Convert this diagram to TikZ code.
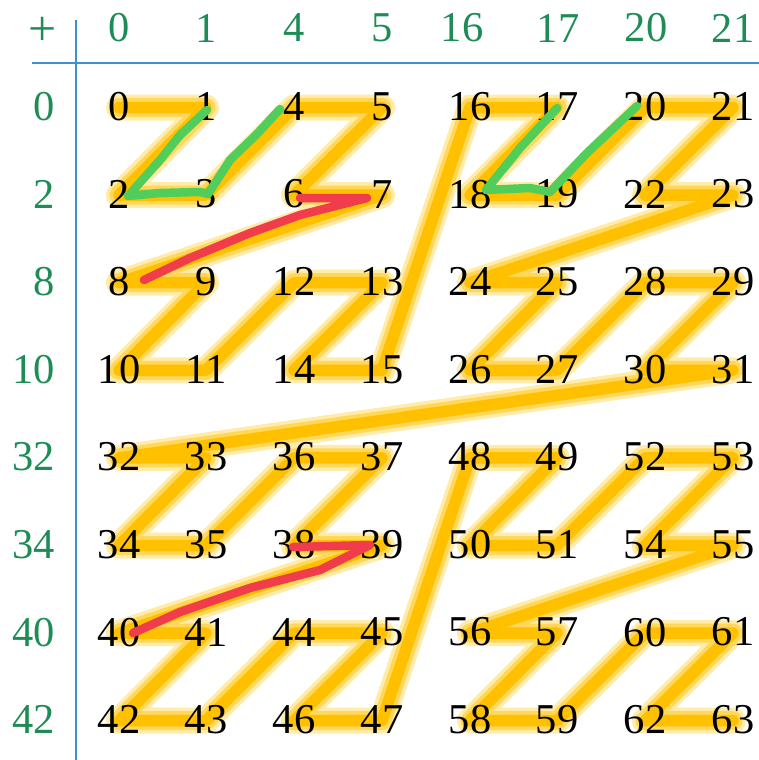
\documentclass[tikz,border=0pt]{standalone}
\usepackage{fontspec}
\setmainfont{Liberation Serif}
\definecolor{hdrgreen}{RGB}{30,140,85}
\definecolor{axisblue}{RGB}{60,145,210}
\definecolor{hlouter}{RGB}{255,236,170}
\definecolor{hlmid}{RGB}{255,215,90}
\definecolor{hlcore}{RGB}{255,192,0}
\definecolor{pengreen}{RGB}{80,205,90}
\definecolor{penred}{RGB}{240,60,75}
\begin{document}
\begin{tikzpicture}[x=1pt,y=-1pt,
  num/.style={inner sep=0pt,font=\fontsize{42.5}{42.5}\selectfont},
  hdr/.style={inner sep=0pt,text=hdrgreen,font=\fontsize{42.5}{42.5}\selectfont},
  axisline/.style={draw=axisblue,line width=2.3pt},
  pen/.style={line width=8.5pt,line cap=round,line join=round},
]
\useasboundingbox (0,0) rectangle (759,760);
% axes
\coordinate (vtop) at (76,20);
\coordinate (vbot) at (76,760);
\coordinate (hl) at (32,63);
\coordinate (hr) at (759,63);
\draw[axisline] (vtop) -- (vbot);
\draw[axisline] (hl) -- (hr);
% headers
\node[hdr,anchor=east,font=\fontsize{50}{50}\selectfont] (plus) at (57,31) {+};
\foreach \cv/\x in {0/119,1/206,4/294,5/382,16/462,17/558,20/646,21/733}
  \node[hdr] (c\cv) at (\x,28) {\cv};
\foreach \rv/\y in {0/106.5,2/194.1,8/281.7,10/369.3,32/456.9,34/544.5,40/632.1,42/719.7}
  \node[hdr,anchor=east] (r\rv) at (55,\y) {\rv};
% grid coordinates
\foreach \cv/\x in {0/119,1/206,4/294,5/382,16/470,17/557,20/645,21/733}{
  \foreach \rv/\y in {0/106.5,2/194.1,8/281.7,10/369.3,32/456.9,34/544.5,40/632.1,42/719.7}{
    \pgfmathtruncatemacro\v{\cv+\rv}
    \coordinate (p\v) at (\x,\y+1);
  }
}
% highlighter path
\draw[hlouter,line width=26pt,line cap=round,line join=round] (p0) \foreach \k in {1,...,63}{ -- (p\k) };
\draw[hlmid,line width=19pt,line cap=round,line join=round] (p0) \foreach \k in {1,...,63}{ -- (p\k) };
\draw[hlcore,line width=11.5pt,line cap=round,line join=round] (p0) \foreach \k in {1,...,63}{ -- (p\k) };
% numbers
\foreach \cv/\x in {0/119,1/206,4/294,5/382,16/470,17/557,20/645,21/733}{
  \foreach \rv/\y in {0/106.5,2/194.1,8/281.7,10/369.3,32/456.9,34/544.5,40/632.1,42/719.7}{
    \pgfmathtruncatemacro\v{\cv+\rv}
    \node[num] (n\v) at (\x,\y) {\v};
  }
}
% green pen strokes
\draw[pen,pengreen] (207,110) -- (180,135) -- (160,160) -- (128,196) -- (160,193) -- (200,192) -- (208,194)
  -- (230,160) -- (257,134) -- (280,109);
\draw[pen,pengreen] (557,108) -- (520,148) -- (486,190) -- (530,188) -- (550,192)
  -- (587,153) -- (637,106);
% red pen strokes
\draw[pen,penred] (300,198) -- (367,198) -- (300,215) -- (250,233) -- (190,258) -- (144,280);
\draw[pen,penred] (293,547) -- (370,545) -- (320,570) -- (250,588) -- (180,612) -- (133,633);
\end{tikzpicture}
\end{document}
